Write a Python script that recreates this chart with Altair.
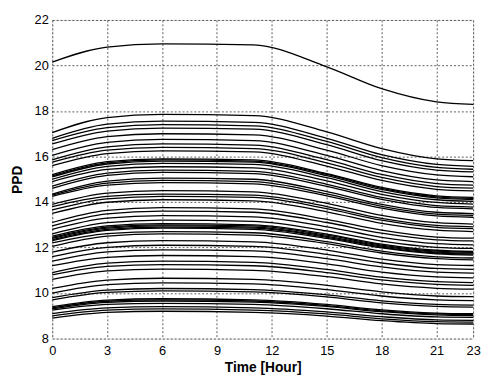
import altair as alt
import pandas as pd

# Key hours at which each PPD curve is sampled
hours = [0, 3, 6, 11, 15, 18, 21, 23]

# PPD value of each curve at the key hours
ppd_lines = [
    [20.15, 20.81, 20.95, 20.90, 19.94, 18.98, 18.40, 18.29],
    [17.05, 17.71, 17.85, 17.80, 17.08, 16.35, 15.90, 15.82],
    [16.80, 17.42, 17.55, 17.50, 16.80, 16.08, 15.65, 15.57],
    [16.70, 17.27, 17.40, 17.35, 16.66, 15.95, 15.52, 15.44],
    [16.55, 17.12, 17.25, 17.20, 16.52, 15.82, 15.40, 15.32],
    [16.30, 16.87, 17.00, 16.95, 16.28, 15.60, 15.19, 15.11],
    [16.05, 16.62, 16.75, 16.70, 16.05, 15.38, 14.97, 14.90],
    [15.85, 16.42, 16.55, 16.50, 15.86, 15.21, 14.81, 14.74],
    [15.75, 16.28, 16.40, 16.35, 15.72, 15.08, 14.68, 14.61],
    [15.60, 16.13, 16.25, 16.20, 15.58, 14.95, 14.56, 14.49],
    [15.20, 15.77, 15.90, 15.85, 15.25, 14.64, 14.27, 14.20],
    [15.15, 15.72, 15.85, 15.80, 15.21, 14.60, 14.23, 14.16],
    [15.10, 15.67, 15.80, 15.75, 15.16, 14.55, 14.18, 14.11],
    [15.00, 15.57, 15.70, 15.65, 15.07, 14.46, 14.10, 14.03],
    [14.90, 15.43, 15.55, 15.50, 14.93, 14.34, 13.98, 13.91],
    [14.70, 15.27, 15.40, 15.35, 14.78, 14.20, 13.84, 13.78],
    [14.60, 15.17, 15.30, 15.25, 14.69, 14.12, 13.76, 13.70],
    [14.35, 14.92, 15.05, 15.00, 14.46, 13.90, 13.55, 13.49],
    [14.30, 14.83, 14.95, 14.90, 14.36, 13.81, 13.47, 13.41],
    [14.25, 14.74, 14.85, 14.80, 14.27, 13.73, 13.39, 13.33],
    [13.90, 14.39, 14.50, 14.45, 13.94, 13.41, 13.09, 13.03],
    [13.80, 14.25, 14.35, 14.30, 13.80, 13.28, 12.97, 12.91],
    [13.65, 14.14, 14.25, 14.20, 13.71, 13.20, 12.89, 12.83],
    [13.50, 13.99, 14.10, 14.05, 13.57, 13.06, 12.76, 12.70],
    [13.10, 13.63, 13.75, 13.70, 13.24, 12.76, 12.46, 12.41],
    [12.95, 13.48, 13.60, 13.55, 13.10, 12.63, 12.34, 12.29],
    [12.80, 13.29, 13.40, 13.35, 12.91, 12.45, 12.17, 12.12],
    [12.60, 13.09, 13.20, 13.15, 12.73, 12.28, 12.01, 11.96],
    [12.50, 12.95, 13.05, 13.00, 12.59, 12.15, 11.88, 11.83],
    [12.45, 12.90, 13.00, 12.95, 12.54, 12.11, 11.84, 11.79],
    [12.40, 12.85, 12.95, 12.90, 12.49, 12.06, 11.80, 11.75],
    [12.35, 12.80, 12.90, 12.85, 12.45, 12.02, 11.76, 11.71],
    [12.30, 12.75, 12.85, 12.80, 12.40, 11.98, 11.72, 11.67],
    [12.20, 12.61, 12.70, 12.65, 12.26, 11.84, 11.59, 11.54],
    [12.05, 12.50, 12.60, 12.55, 12.17, 11.76, 11.51, 11.46],
    [11.80, 12.21, 12.30, 12.25, 11.89, 11.49, 11.25, 11.21],
    [11.60, 12.01, 12.10, 12.05, 11.70, 11.32, 11.08, 11.04],
    [11.40, 11.81, 11.90, 11.85, 11.51, 11.15, 10.92, 10.88],
    [11.20, 11.57, 11.65, 11.60, 11.28, 10.92, 10.71, 10.67],
    [10.90, 11.31, 11.40, 11.35, 11.04, 10.70, 10.50, 10.46],
    [10.80, 11.17, 11.25, 11.20, 10.90, 10.58, 10.38, 10.34],
    [10.60, 10.97, 11.05, 11.00, 10.72, 10.40, 10.21, 10.17],
    [10.20, 10.57, 10.65, 10.60, 10.34, 10.05, 9.87, 9.84],
    [10.00, 10.37, 10.45, 10.40, 10.15, 9.87, 9.70, 9.67],
    [9.80, 10.13, 10.20, 10.15, 9.92, 9.66, 9.50, 9.47],
    [9.70, 10.03, 10.10, 10.05, 9.83, 9.57, 9.41, 9.38],
    [9.40, 9.69, 9.75, 9.70, 9.50, 9.26, 9.12, 9.09],
    [9.35, 9.64, 9.70, 9.65, 9.45, 9.22, 9.08, 9.05],
    [9.30, 9.59, 9.65, 9.60, 9.41, 9.18, 9.04, 9.01],
    [9.25, 9.50, 9.55, 9.50, 9.31, 9.09, 8.95, 8.93],
    [9.10, 9.35, 9.40, 9.35, 9.17, 8.96, 8.82, 8.80],
    [9.00, 9.25, 9.30, 9.25, 9.08, 8.87, 8.74, 8.72],
    [8.90, 9.15, 9.20, 9.15, 8.99, 8.79, 8.66, 8.64],
]

x_ticks = [0, 3, 6, 9, 12, 15, 18, 21, 23]
y_ticks = [8, 10, 12, 14, 16, 18, 20, 22]

rows = []
for i, line in enumerate(ppd_lines):
    for h, v in zip(hours, line):
        rows.append({"line": i, "hour": h, "ppd": v})
df = pd.DataFrame(rows)

font = "Liberation Sans"

chart = alt.Chart(df).mark_line(
    color="black", strokeWidth=1.3, interpolate="monotone"
).encode(
    x=alt.X("hour:Q",
            scale=alt.Scale(domain=[0, 23], nice=False, zero=False),
            axis=alt.Axis(values=x_ticks, title="Time [Hour]", format="d",
                          grid=True, gridDash=[2, 2], gridColor="#333333",
                          gridOpacity=0.8, ticks=False, domain=False,
                          labelFont=font, labelFontSize=13, labelColor="black",
                          labelPadding=6, labelFlush=False,
                          titleFont=font, titleFontSize=14, titleFontWeight="bold",
                          titleColor="black", titlePadding=3)),
    y=alt.Y("ppd:Q",
            scale=alt.Scale(domain=[8, 22], nice=False, zero=False),
            axis=alt.Axis(values=y_ticks, title="PPD", format="d",
                          grid=True, gridDash=[2, 2], gridColor="#333333",
                          gridOpacity=0.8, ticks=False, domain=False,
                          labelFont=font, labelFontSize=13, labelColor="black",
                          labelPadding=4, labelFlush=False,
                          titleFont=font, titleFontSize=14, titleFontWeight="bold",
                          titleColor="black", titlePadding=10)),
    detail="line:N",
).properties(
    width=428,
    height=324,
    autosize=alt.AutoSizeParams(type="none"),
    padding={"left": 45, "top": 9, "right": 8, "bottom": 40},
).configure_view(
    stroke="black", strokeWidth=1
).configure(background="white")

chart.save("out.html", embed_options={"renderer": "svg", "actions": False})
